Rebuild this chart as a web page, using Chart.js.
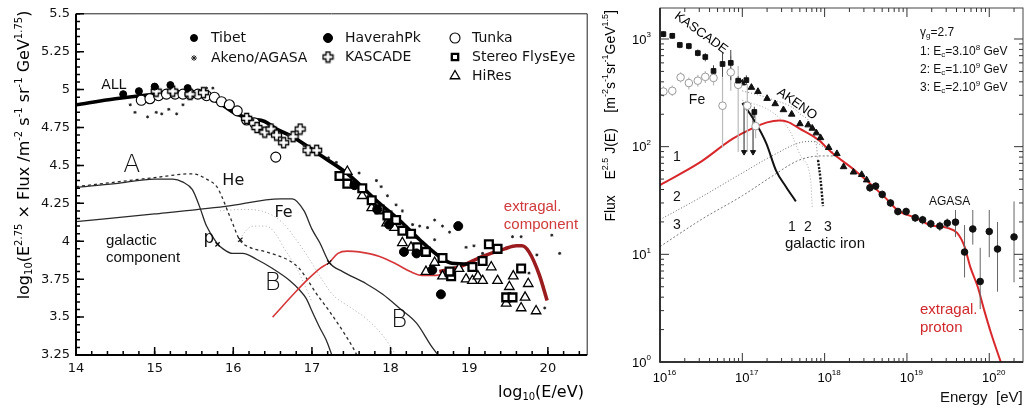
<!DOCTYPE html>
<html>
<head>
<meta charset="utf-8">
<script src="https://cdn.jsdelivr.net/npm/chart.js@4.4.1/dist/chart.umd.min.js"></script>
<style>
  html, body { margin: 0; padding: 0; background: #fff; overflow: hidden; }
  #leftBox { position: absolute; left: 0; top: 0; width: 595px; height: 413px; }
  #rightBox { position: absolute; left: 596px; top: 0; width: 432px; height: 413px; }
</style>
</head>
<body>
<div id="leftBox"><canvas id="cLeft"></canvas></div>
<div id="rightBox"><canvas id="cRight"></canvas></div>
<script>
// ---------- left panel: log10(E/eV) vs log10(E^2.75 x flux) ----------
const xTicksL = [14, 15, 16, 17, 18, 19, 20];
const yTicksL = [3.25, 3.5, 3.75, 4, 4.25, 4.5, 4.75, 5, 5.25, 5.5];

const allLine = [[14,4.90],[14.5,4.94],[15,4.97],[15.5,4.98],[15.8,4.92],[16,4.85],[16.2,4.81],[16.4,4.79],[16.55,4.74],[16.75,4.69],[17.1,4.57],[17.44,4.45],[17.86,4.25],[18.11,4.14],[18.37,4.01],[18.62,3.90],[18.78,3.855],[19.05,3.85]];
const extragalThick = [[18.62,3.80],[18.87,3.83],[19.17,3.90],[19.45,3.95],[19.6,3.97],[19.67,3.97],[19.76,3.93],[19.89,3.78],[19.99,3.61]];
const extragalThin = [[16.5,3.5],[16.8,3.67],[16.95,3.75],[17.1,3.82],[17.22,3.86],[17.33,3.92],[17.45,3.935],[17.6,3.93],[17.86,3.90],[18.07,3.85],[18.25,3.80],[18.4,3.775],[18.58,3.775],[18.7,3.79]];
const protonLine = [[14,4.355],[14.5,4.38],[15,4.41],[15.23,4.41],[15.36,4.39],[15.48,4.34],[15.57,4.23],[15.66,4.10],[15.79,3.99],[15.87,3.95],[15.99,3.92],[16.12,3.92],[16.3,3.88],[16.5,3.82],[16.72,3.74],[16.84,3.68],[16.93,3.62],[17.0,3.54],[17.1,3.43],[17.18,3.35],[17.26,3.24]];
const heliumLine = [[14,4.36],[14.5,4.39],[15,4.42],[15.48,4.445],[15.66,4.41],[15.79,4.36],[15.85,4.30],[15.92,4.21],[15.99,4.12],[16.08,4.01],[16.21,3.96],[16.42,3.93],[16.72,3.87],[16.84,3.82],[16.95,3.74],[17.05,3.66],[17.22,3.54],[17.39,3.41],[17.52,3.30],[17.6,3.22]];
const ironLine = [[14,4.13],[15,4.18],[15.9,4.23],[16.6,4.28],[16.75,4.28],[16.9,4.20],[17.0,4.08],[17.1,3.99],[17.22,3.86],[17.39,3.80],[17.69,3.72],[17.9,3.65],[18.11,3.56],[18.33,3.46],[18.53,3.30],[18.62,3.24]];
const dottedOuter = [[15.83,4.20],[16.12,4.21],[16.42,4.19],[16.63,4.12],[16.8,4.01],[16.97,3.88],[17.1,3.77],[17.26,3.65],[17.5,3.56],[17.69,3.49],[17.9,3.38],[18.07,3.25]];
const dottedInner = [[16.05,4.0],[16.25,4.10],[16.42,4.10],[16.55,4.04],[16.65,3.95],[16.8,3.83],[16.9,3.72],[17.0,3.60]];
const crossMarks = [[15.8,3.98],[16.09,4.01],[17.22,3.86]];

const tibet = [[14.6,4.97],[14.8,4.99],[15.0,5.02],[15.2,5.03],[15.42,5.01]];
const akenoAgasa = [[14.69,4.90],[14.75,4.85],[14.91,4.82],[15.02,4.85],[15.09,4.84],[15.18,4.87],[15.28,4.84],[15.36,4.90],[15.66,5.01],[15.74,5.01],[16.25,4.80],[16.45,4.76],[16.7,4.70],[16.9,4.63],[17.21,4.55],[17.31,4.52],[17.6,4.45],[17.82,4.40],[17.88,4.36],[17.96,4.30],[18.07,4.24],[18.15,4.20],[18.28,4.11],[18.37,4.10],[18.47,4.09],[18.56,4.14],[18.66,4.10],[18.75,4.06],[18.56,4.01],[18.96,3.96],[19.06,3.97],[19.17,3.92],[19.55,4.03],[19.66,4.03],[20.05,4.04],[19.86,3.91],[20.15,3.92],[19.76,3.79],[19.96,3.56]];
const haverahPk = [[17.54,4.37],[17.83,4.21],[17.98,4.11],[18.17,3.93],[18.33,3.92],[18.53,3.81],[18.64,3.65],[18.86,4.10]];
const tunka = [[14.83,4.93],[14.94,4.94],[15.05,4.96],[15.15,4.97],[15.26,4.97],[15.36,4.97],[15.45,4.97],[15.55,4.97],[15.66,4.96],[15.76,4.95],[15.85,4.92],[15.95,4.90],[16.05,4.86],[16.17,4.80],[16.27,4.78],[16.54,4.555]];
const kascadeL = [[15.02,4.99],[15.23,4.99],[15.45,4.97],[15.62,4.98],[16.17,4.81],[16.3,4.75],[16.4,4.72],[16.48,4.74],[16.55,4.70],[16.64,4.65],[16.76,4.69],[16.85,4.74],[16.95,4.60],[17.06,4.60]];
const flysEye = [[17.35,4.43],[17.45,4.38],[17.64,4.35],[17.76,4.27],[17.86,4.21],[17.96,4.17],[18.07,4.14],[18.15,4.07],[18.26,4.05],[18.34,3.96],[18.45,3.93],[18.66,3.89],[18.77,3.77],[18.75,3.80],[19.04,3.83],[19.17,3.87],[19.25,3.98],[19.36,3.95],[19.66,3.82],[19.47,3.63],[19.55,3.63]];
const hiRes = [[17.45,4.46],[17.64,4.30],[17.76,4.22],[17.95,4.12],[18.05,4.09],[18.15,3.99],[18.26,3.96],[18.45,3.80],[18.56,3.86],[18.66,3.77],[18.87,3.82],[18.96,3.75],[19.04,3.74],[19.11,3.77],[19.17,3.74],[19.28,3.83],[19.36,3.74],[19.51,3.70],[19.56,3.77],[19.75,3.72],[19.71,3.63],[19.66,3.56],[19.85,3.54],[19.47,3.59]];

// ---------- right panel: E [eV] vs E^2.5 J(E) ----------
const xTickExpR = [16, 17, 18, 19, 20];
const yTickExpR = [0, 1, 2, 3];

const kascadeE  = [1.10e16,1.41e16,1.74e16,2.24e16,2.88e16,3.55e16,4.47e16,5.75e16,7.24e16,8.91e16,1.12e17,1.40e17];
const kascadeJ  = [1110,1070,880,860,740,680,505,586,600,410,415,210];
const kascadeLo = [1040,1000,820,800,690,620,400,445,415,370,375,185];
const kascadeHi = [1180,1140,940,920,800,740,570,740,790,450,460,235];

const feE  = [1.10e16,1.41e16,1.78e16,2.24e16,2.88e16,3.55e16,4.47e16,5.75e16,7.24e16,8.91e16,1.15e17,1.45e17];
const feJ  = [325,330,440,390,410,445,435,240,490,375,240,155];
const feLo = [290,295,395,340,360,390,370,98,330,89,89,120];
const feHi = [365,370,490,440,465,505,510,445,700,560,380,200];

const limitE = [1.05e17, 1.35e17];
const limitTop = [260, 215];
const limitBottom = [89, 89];

const akenoE = [1.0e17,1.29e17,1.55e17,2.0e17,2.51e17,3.16e17,3.98e17,5.01e17,6.31e17,7.08e17,7.94e17,8.91e17,1.12e18,1.41e18,1.70e18,2.24e18,2.82e18,3.24e18];
const akenoJ = [390,355,325,280,250,220,200,163,159,148,134,121,98,86,65,58,55,49];

const agasaE  = [3.55e18,4.17e18,5.01e18,6.31e18,7.76e18,9.77e18,1.26e19,1.55e19,1.95e19,2.51e19,3.09e19,3.89e19,5.01e19,6.31e19,7.76e19,1.0e20,1.26e20,2.0e20];
const agasaJ  = [41.5,43,36,30,25,25,21.8,20.9,19.2,18.3,19.5,19.9,10.5,17.2,5.6,16.3,11.2,14.5];
const agasaLo = [38,39.5,33,27.5,23,23,20,19,17.5,16.5,17.5,14.5,6.1,12.3,3.1,9.4,4.5,5.5];
const agasaHi = [45,46.5,39,32.5,27,27,23.6,22.8,21,20.1,21.5,25.8,18.7,25.8,11.5,25.8,20,31];

const protonE = [1e16,3.02e16,7.59e16,1.32e17,2.0e17,2.82e17,3.55e17,4.9e17,8.51e17,1.2e18,2.34e18,5.37e18,7.76e18,1.26e19,1.95e19,3.09e19,4.07e19,5.01e19,5.89e19,7.24e19,8.71e19,1.05e20,1.38e20];
const protonJ = [44,71,118,148,168,175,170,148,115,89,60,34,25.6,21.9,18.6,17.6,15.8,11.8,7.6,5.0,3.0,1.86,1.0];
const curve2E = [1e16,3.16e16,1e17,2.29e17,5.25e17,7.08e17,1e18,1.26e18];
const curve2J = [21,34,57,82,110,112,98,89];
const curve3E = [1e16,3.16e16,1e17,2.29e17,4.9e17,9.12e17,1.41e18];
const curve3J = [11.8,21,35,53,75,82,82];
const iron1E = [1.0e17,1.38e17,1.95e17,2.57e17,3.39e17,4.47e17];
const iron1J = [254,178,108,60,42.5,31];
const iron2E = [1.0e17,2.29e17,3.72e17,5.25e17,6.76e17,7.08e17];
const iron2J = [270,210,143,79,49,27];
const iron3E = [1.0e17,2.29e17,4.9e17,7.76e17,8.32e17];
const iron3J = [330,275,205,115,75];
const iron3TailE = [8.32e17,8.91e17,9.55e17];
const iron3TailJ = [75,50,28];

// ---------- helpers ----------
const H = Chart.helpers;
const pts = arr => arr.map(p => ({ x: p[0], y: p[1] }));
const zipXY = (xs, ys) => xs.map((x, i) => ({ x: x, y: ys[i] }));
function errBars(xs, lo, hi) {
  const out = [];
  xs.forEach((x, i) => { out.push({ x: x, y: lo[i] }, { x: x, y: hi[i] }, { x: x, y: null }); });
  return out;
}
function lineDs(data, color, width, dash, order) {
  return { data: data, showLine: true, borderColor: color, borderWidth: width, borderDash: dash || [],
    pointRadius: 0, cubicInterpolationMode: 'monotone', order: order || 5, spanGaps: false };
}
function segDs(data, color, width, order) {
  return { data: data, showLine: true, borderColor: color, borderWidth: width, pointRadius: 0, tension: 0,
    spanGaps: false, order: order || 4 };
}

// outlined plus sign used for KASCADE
function makeCross() {
  const c = document.createElement('canvas');
  c.width = 13; c.height = 13;
  const g = c.getContext('2d');
  const a = 2, b = 5, cx = 6.5, cy = 6.5;
  const p = [[-a,-b],[a,-b],[a,-a],[b,-a],[b,a],[a,a],[a,b],[-a,b],[-a,a],[-b,a],[-b,-a],[-a,-a]];
  g.beginPath();
  p.forEach((q, i) => i ? g.lineTo(cx + q[0], cy + q[1]) : g.moveTo(cx + q[0], cy + q[1]));
  g.closePath();
  g.fillStyle = '#fff'; g.fill();
  g.strokeStyle = '#000'; g.lineWidth = 1.3; g.stroke();
  return c;
}
const crossImg = makeCross();

const mk = {
  tibet:   { pointStyle: 'circle', pointRadius: 3.5, backgroundColor: '#000', borderColor: '#000', borderWidth: 1 },
  akeno:   { pointStyle: 'star', pointRadius: 1.5, backgroundColor: '#000', borderColor: '#222', borderWidth: 1 },
  haverah: { pointStyle: 'circle', pointRadius: 4.5, backgroundColor: '#000', borderColor: '#000', borderWidth: 1 },
  kascade: { pointStyle: crossImg, pointRadius: 5, backgroundColor: '#fff', borderColor: '#000', borderWidth: 1 },
  tunka:   { pointStyle: 'circle', pointRadius: 5, backgroundColor: '#fff', borderColor: '#000', borderWidth: 1.1 },
  flys:    { pointStyle: 'rect', pointRadius: 5.5, backgroundColor: '#fff', borderColor: '#000', borderWidth: 2.3 },
  hires:   { pointStyle: 'triangle', pointRadius: 5.5, backgroundColor: '#fff', borderColor: '#000', borderWidth: 1.3 }
};
function markDs(data, st, order) { return Object.assign({ data: data, order: order || 1 }, st); }

// text with ^{sup} and _{sub}
function parseRich(s) {
  const parts = [];
  let i = 0, buf = '';
  while (i < s.length) {
    const c = s[i];
    if ((c === '^' || c === '_') && s[i + 1] === '{') {
      if (buf) { parts.push({ t: buf, m: 'n' }); buf = ''; }
      const j = s.indexOf('}', i);
      parts.push({ t: s.slice(i + 2, j), m: c === '^' ? 'sup' : 'sub' });
      i = j + 1;
    } else { buf += c; i++; }
  }
  if (buf) parts.push({ t: buf, m: 'n' });
  return parts;
}
function drawRich(ctx, s, x, y, o) {
  o = o || {};
  const size = o.size || 14, fam = o.family || 'DejaVu Sans', wt = o.weight || 'normal';
  const parts = parseRich(s);
  let w = 0;
  parts.forEach(p => {
    p.font = wt + ' ' + (p.m === 'n' ? size : Math.round(size * 0.64)) + 'px "' + fam + '"';
    ctx.font = p.font;
    p.w = ctx.measureText(p.t).width;
    w += p.w;
  });
  let cx = x;
  if (o.align === 'center') cx -= w / 2;
  else if (o.align === 'right') cx -= w;
  ctx.fillStyle = o.color || '#000';
  ctx.textAlign = 'left';
  ctx.textBaseline = 'middle';
  parts.forEach(p => {
    ctx.font = p.font;
    const dy = p.m === 'sup' ? -size * 0.38 : (p.m === 'sub' ? size * 0.25 : 0);
    ctx.fillText(p.t, cx, y + dy);
    cx += p.w;
  });
  return w;
}
function drawRot(ctx, s, x, y, ang, o) {
  ctx.save(); ctx.translate(x, y); ctx.rotate(ang);
  drawRich(ctx, s, 0, 0, o);
  ctx.restore();
}
function tickSet(ctx, scale, vals, len, side, ca) {
  ctx.beginPath();
  vals.forEach(v => {
    const p = scale.getPixelForValue(v);
    if (side === 'bottom') { ctx.moveTo(p, ca.bottom); ctx.lineTo(p, ca.bottom - len); }
    if (side === 'top')    { ctx.moveTo(p, ca.top); ctx.lineTo(p, ca.top + len); }
    if (side === 'left')   { ctx.moveTo(ca.left, p); ctx.lineTo(ca.left + len, p); }
    if (side === 'right')  { ctx.moveTo(ca.right, p); ctx.lineTo(ca.right - len, p); }
  });
  ctx.stroke();
}
function stepVals(a, b, s) {
  const out = [];
  for (let v = a; v <= b + 1e-9; v += s) out.push(Math.round(v * 1000) / 1000);
  return out;
}
function logMinor(e0, e1, max) {
  const out = [];
  for (let e = e0; e <= e1; e++) for (let k = 2; k <= 9; k++) { const v = k * Math.pow(10, e); if (v <= max) out.push(v); }
  return out;
}

// ---------- left panel decorations ----------
const leftLegend = [
  { label: 'Tibet', st: mk.tibet, x: 194, y: 38 },
  { label: 'Akeno/AGASA', st: Object.assign({}, mk.akeno, { pointRadius: 3 }), x: 194, y: 58 },
  { label: 'HaverahPk', st: mk.haverah, x: 328, y: 38 },
  { label: 'KASCADE', st: mk.kascade, x: 328, y: 57 },
  { label: 'Tunka', st: mk.tunka, x: 455, y: 38 },
  { label: 'Stereo FlysEye', st: Object.assign({}, mk.flys, { pointRadius: 4.5 }), x: 455, y: 57 },
  { label: 'HiRes', st: mk.hires, x: 455, y: 76 }
];
const leftNotes = [
  { t: 'ALL', x: 14.48, y: 5.03, size: 14, align: 'center' },
  { t: 'A', x: 14.71, y: 4.50, size: 25, align: 'center', weight: '200' },
  { t: 'He', x: 16.0, y: 4.40, size: 16, align: 'center' },
  { t: 'Fe', x: 16.64, y: 4.19, size: 16, align: 'center' },
  { t: 'p', x: 15.69, y: 4.02, size: 17, align: 'center' },
  { t: 'B', x: 16.50, y: 3.72, size: 25, align: 'center', weight: '200' },
  { t: 'B', x: 18.11, y: 3.48, size: 25, align: 'center', weight: '200' },
  { t: 'galactic', x: 14.38, y: 4.005, size: 15, align: 'left', family: 'Liberation Sans' },
  { t: 'component', x: 14.38, y: 3.89, size: 15, align: 'left', family: 'Liberation Sans' },
  { t: 'extragal.', x: 19.44, y: 4.23, size: 15, align: 'left', family: 'Liberation Sans', color: '#d03a3c' },
  { t: 'component', x: 19.44, y: 4.11, size: 15, align: 'left', family: 'Liberation Sans', color: '#d03a3c' }
];

const leftDecor = {
  id: 'leftDecor',
  afterDraw(chart) {
    const ctx = chart.ctx, ca = chart.chartArea, sx = chart.scales.x, sy = chart.scales.y;
    ctx.save();
    ctx.strokeStyle = '#222'; ctx.lineWidth = 1;
    ctx.beginPath(); ctx.moveTo(ca.left, ca.top); ctx.lineTo(ca.right, ca.top); ctx.lineTo(ca.right, ca.bottom); ctx.stroke();
    ctx.strokeStyle = '#000'; ctx.lineWidth = 2;
    ctx.beginPath(); ctx.moveTo(ca.left, ca.top); ctx.lineTo(ca.left, ca.bottom); ctx.lineTo(ca.right, ca.bottom); ctx.stroke();
    ctx.lineWidth = 1.5;
    tickSet(ctx, sx, xTicksL, 8, 'bottom', ca);
    tickSet(ctx, sx, stepVals(14, 20.4, 0.2), 4, 'bottom', ca);
    tickSet(ctx, sy, yTicksL, 8, 'left', ca);
    tickSet(ctx, sy, stepVals(3.25, 5.5, 0.05), 4, 'left', ca);

    leftNotes.forEach(n => drawRich(ctx, n.t, sx.getPixelForValue(n.x), sy.getPixelForValue(n.y),
      { size: n.size, align: n.align, weight: n.weight, family: n.family, color: n.color || '#111' }));

    leftLegend.forEach(it => {
      const s = it.st;
      ctx.fillStyle = s.backgroundColor; ctx.strokeStyle = s.borderColor; ctx.lineWidth = s.borderWidth;
      H.drawPoint(ctx, { pointStyle: s.pointStyle, radius: s.pointRadius, rotation: 0, borderWidth: s.borderWidth }, it.x, it.y);
      drawRich(ctx, it.label, it.x + 17, it.y, { size: 14, color: '#111' });
    });

    drawRich(ctx, 'log_{10}(E/eV)', 498, 393, { size: 16 });
    drawRot(ctx, 'log_{10}(E^{2.75} × Flux /m^{-2} s^{-1} sr^{-1} GeV^{1.75})', 25, 155, -Math.PI / 2, { size: 16, align: 'center' });
    ctx.restore();
  }
};

new Chart(document.getElementById('cLeft'), {
  type: 'scatter',
  data: {
    datasets: [
      markDs(pts(tibet), mk.tibet),
      markDs(pts(haverahPk), mk.haverah),
      markDs(pts(akenoAgasa), mk.akeno),
      markDs(pts(kascadeL), mk.kascade),
      markDs(pts(tunka), mk.tunka),
      markDs(pts(flysEye), mk.flys),
      markDs(pts(hiRes), mk.hires),
      { data: pts(crossMarks), pointStyle: 'crossRot', pointRadius: 3, borderColor: '#111', borderWidth: 1.3, order: 2 },
      lineDs(pts(allLine), '#000', 3.6, null, 3),
      lineDs(pts(extragalThick), '#9b1c1f', 3.6, null, 3),
      lineDs(pts(extragalThin), '#d5373a', 1.6, null, 4),
      lineDs(pts(protonLine), '#2a2a2a', 1.3, null, 5),
      lineDs(pts(heliumLine), '#2a2a2a', 1.3, [3, 3], 5),
      lineDs(pts(ironLine), '#2a2a2a', 1.3, null, 5),
      lineDs(pts(dottedOuter), '#aaa', 1, [1, 2.5], 6),
      lineDs(pts(dottedInner), '#aaa', 1, [1, 2.5], 6)
    ]
  },
  options: {
    responsive: true, maintainAspectRatio: false, animation: false,
    layout: { padding: { top: 7, right: 7, left: 0, bottom: 0 } },
    plugins: { legend: { display: false }, tooltip: { enabled: false } },
    scales: {
      x: {
        type: 'linear', min: 14, max: 20.5,
        afterBuildTicks: s => { s.ticks = xTicksL.map(v => ({ value: v })); },
        afterFit: s => { s.height = 58; },
        grid: { display: false, drawTicks: false }, border: { display: false },
        ticks: { font: { family: 'DejaVu Sans', size: 13 }, color: '#111', padding: 6, maxRotation: 0, autoSkip: false, callback: v => String(v) }
      },
      y: {
        type: 'linear', min: 3.25, max: 5.5,
        afterBuildTicks: s => { s.ticks = yTicksL.map(v => ({ value: v })); },
        afterFit: s => { s.width = 76; },
        grid: { display: false, drawTicks: false }, border: { display: false },
        ticks: { font: { family: 'DejaVu Sans', size: 13 }, color: '#111', padding: 6, autoSkip: false, callback: v => String(v) }
      }
    }
  },
  plugins: [leftDecor]
});

// ---------- right panel decorations ----------
const rightNotes = [
  { t: 'Fe', x: 697, y: 100, size: 14, align: 'center' },
  { t: '1', x: 677, y: 157, size: 14, align: 'center' },
  { t: '2', x: 677, y: 197, size: 14, align: 'center' },
  { t: '3', x: 677, y: 225, size: 14, align: 'center' },
  { t: 'γ_{g}=2.7', x: 920, y: 33, size: 12, align: 'left' },
  { t: '1: E_{c}=3.10^{8} GeV', x: 920, y: 52, size: 12, align: 'left' },
  { t: '2: E_{c}=1.10^{9} GeV', x: 920, y: 70, size: 12, align: 'left' },
  { t: '3: E_{c}=2.10^{9} GeV', x: 920, y: 88, size: 12, align: 'left' },
  { t: 'AGASA', x: 929, y: 202, size: 12, align: 'left' },
  { t: '1', x: 792, y: 227, size: 14, align: 'center' },
  { t: '2', x: 808, y: 227, size: 14, align: 'center' },
  { t: '3', x: 828, y: 227, size: 14, align: 'center' },
  { t: 'galactic iron', x: 825, y: 244, size: 15, align: 'center' },
  { t: 'extragal.', x: 920, y: 310, size: 15, align: 'left', color: '#d0282d' },
  { t: 'proton', x: 920, y: 328, size: 15, align: 'left', color: '#d0282d' },
  { t: 'Energy', x: 940, y: 398, size: 15, align: 'left' },
  { t: '[eV]', x: 996, y: 398, size: 15, align: 'left' }
];
const OFF_R = 596;

const rightDecor = {
  id: 'rightDecor',
  afterDraw(chart) {
    const ctx = chart.ctx, ca = chart.chartArea, sx = chart.scales.x, sy = chart.scales.y;
    const fam = 'Liberation Sans';
    ctx.save();
    ctx.strokeStyle = '#444'; ctx.lineWidth = 1;
    ctx.strokeRect(ca.left, ca.top, ca.right - ca.left, ca.bottom - ca.top);
    ctx.strokeStyle = '#111'; ctx.lineWidth = 1.5;
    ctx.beginPath(); ctx.moveTo(ca.left, ca.top); ctx.lineTo(ca.left, ca.bottom); ctx.lineTo(ca.right, ca.bottom); ctx.stroke();
    ctx.lineWidth = 1; ctx.strokeStyle = '#333';
    const xMaj = xTickExpR.map(e => Math.pow(10, e));
    const yMaj = yTickExpR.map(e => Math.pow(10, e));
    const xMin = logMinor(16, 20, sx.max), yMin = logMinor(0, 3, sy.max);
    ['bottom', 'top'].forEach(sd => { tickSet(ctx, sx, xMaj, 9, sd, ca); tickSet(ctx, sx, xMin, 4, sd, ca); });
    ['left', 'right'].forEach(sd => { tickSet(ctx, sy, yMaj, 9, sd, ca); tickSet(ctx, sy, yMin, 4, sd, ca); });

    // tick labels 10^n
    xTickExpR.forEach(e => {
      const px = sx.getPixelForValue(Math.pow(10, e));
      ctx.font = '13px "' + fam + '"';
      const w10 = ctx.measureText('10').width;
      drawRich(ctx, '10^{' + e + '}', px - w10 / 2, 378, { size: 13, family: fam });
    });
    yTickExpR.forEach(e => {
      const py = sy.getPixelForValue(Math.pow(10, e));
      drawRich(ctx, '10^{' + e + '}', ca.left - 9, py + 1, { size: 13, family: fam, align: 'right' });
    });

    ctx.translate(-OFF_R, 0);
    rightNotes.forEach(n => drawRich(ctx, n.t, n.x, n.y, { size: n.size, align: n.align, family: fam, color: n.color || '#111' }));
    drawRot(ctx, 'KASCADE', 701, 33, 36 * Math.PI / 180, { size: 13, align: 'center', family: fam });
    drawRot(ctx, 'AKENO', 797, 104, 35 * Math.PI / 180, { size: 13, align: 'center', family: fam });
    drawRot(ctx, 'Flux    E^{2.5} J(E)    [m^{-2}s^{-1}sr^{-1}GeV^{1.5}]', 611, 10, -Math.PI / 2, { size: 14, align: 'right', family: fam });
    ctx.restore();
  }
};

new Chart(document.getElementById('cRight'), {
  type: 'scatter',
  data: {
    datasets: [
      { data: zipXY(kascadeE, kascadeJ), pointStyle: 'rect', pointRadius: 3.3, backgroundColor: '#111', borderColor: '#111', borderWidth: 1, order: 1 },
      { data: zipXY(feE, feJ), pointStyle: 'circle', pointRadius: 3.8, backgroundColor: '#fff', borderColor: '#999', borderWidth: 1, order: 1 },
      { data: zipXY(akenoE, akenoJ), pointStyle: 'triangle', pointRadius: 3.8, backgroundColor: '#111', borderColor: '#111', borderWidth: 1, order: 1 },
      { data: zipXY(agasaE, agasaJ), pointStyle: 'circle', pointRadius: 3.3, backgroundColor: '#111', borderColor: '#111', borderWidth: 1, order: 1 },
      { data: zipXY(limitE, limitBottom), pointStyle: 'triangle', rotation: 180, pointRadius: 3, backgroundColor: '#111', borderColor: '#111', borderWidth: 1, order: 1 },
      segDs(errBars(kascadeE, kascadeLo, kascadeHi), '#444', 1, 2),
      segDs(errBars(feE, feLo, feHi), '#bbb', 1.2, 3),
      segDs(errBars(agasaE, agasaLo, agasaHi), '#666', 1, 2),
      segDs(errBars(limitE, limitBottom, limitTop), '#222', 1, 2),
      lineDs(zipXY(protonE, protonJ), '#d8282c', 2, null, 3),
      lineDs(zipXY(iron1E, iron1J), '#111', 2, null, 3),
      lineDs(zipXY(iron3TailE, iron3TailJ), '#111', 2.4, [2, 1.5], 3),
      lineDs(zipXY(curve2E, curve2J), '#666', 1, [1, 2], 5),
      lineDs(zipXY(curve3E, curve3J), '#777', 1, [2, 2], 5),
      lineDs(zipXY(iron2E, iron2J), '#aaa', 1, [1, 2], 5),
      lineDs(zipXY(iron3E, iron3J), '#888', 1, [1, 2], 5)
    ]
  },
  options: {
    responsive: true, maintainAspectRatio: false, animation: false,
    layout: { padding: { top: 8, right: 2, left: 0, bottom: 0 } },
    plugins: { legend: { display: false }, tooltip: { enabled: false } },
    scales: {
      x: {
        type: 'logarithmic', min: 1e16, max: 2.57e20,
        afterFit: s => { s.height = 51; },
        grid: { display: false, drawTicks: false }, border: { display: false },
        ticks: { display: false }
      },
      y: {
        type: 'logarithmic', min: 1, max: 1940,
        afterFit: s => { s.width = 64; },
        grid: { display: false, drawTicks: false }, border: { display: false },
        ticks: { display: false }
      }
    }
  },
  plugins: [rightDecor]
});
</script>
</body>
</html>
